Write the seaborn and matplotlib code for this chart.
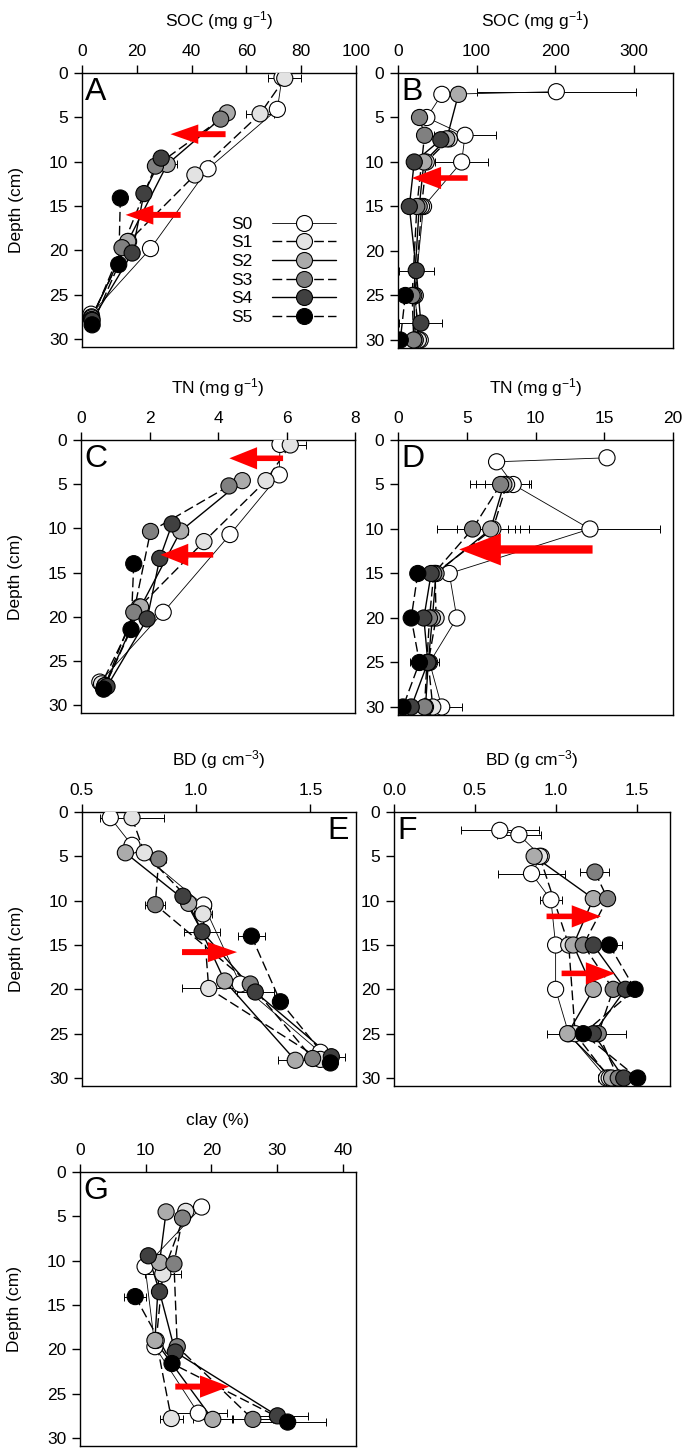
import numpy as np
import pandas as pd
import matplotlib
matplotlib.use("Agg")
import matplotlib.pyplot as plt
import seaborn as sns
from matplotlib.lines import Line2D

# ---------------- data ----------------
SERIES = ["S0", "S1", "S2", "S3", "S4", "S5"]

# Panel A : SOC (mg g-1), site 1
A_depth = {"S0": [0.5, 4.1, 10.8, 19.8, 27.2], "S1": [0.6, 4.6, 11.5, 19.0, 27.5],
           "S2": [4.5, 10.3, 19.0, 27.6], "S3": [5.2, 10.5, 19.7, 27.8],
           "S4": [9.6, 13.6, 20.3, 27.9], "S5": [14.1, 21.6, 28.4]}
A_soc = {"S0": [73.0, 71.3, 46.0, 25.0, 3.3], "S1": [74.0, 65.0, 41.2, 17.0, 3.5],
         "S2": [53.0, 31.1, 16.7, 3.5], "S3": [50.6, 26.8, 14.6, 3.5],
         "S4": [28.9, 22.6, 18.3, 3.7], "S5": [14.0, 13.4, 3.7]}
A_err = {"S0": [0, 0, 0, 0, 0], "S1": [6.0, 5.1, 0, 0, 0], "S2": [0, 3.6, 0, 0],
         "S3": [1.0, 0, 0, 0], "S4": [0, 0, 0, 0], "S5": [0, 0, 0]}

# Panel B : SOC (mg g-1), site 2
B_depth = {"S0": [2.1, 2.4, 5.0, 7.0, 10.0, 15.0, 25.0, 30.0], "S1": [7.4, 10.0, 15.0, 25.0, 30.0],
           "S2": [2.4, 7.4, 10.0, 15.0, 25.0, 30.0], "S3": [5.0, 7.0, 15.0, 25.0, 30.0],
           "S4": [7.5, 10.0, 15.0, 22.2, 28.1], "S5": [25.0, 30.0]}
B_soc = {"S0": [201.5, 55.8, 36.7, 85.3, 81.0, 32.5, 21.0, 28.3], "S1": [65.4, 36.0, 30.0, 22.0, 26.0],
         "S2": [76.9, 62.0, 33.0, 27.0, 20.0, 22.0], "S3": [27.4, 33.8, 24.0, 18.0, 20.0],
         "S4": [54.5, 20.7, 14.4, 23.2, 29.1], "S5": [9.3, 2.9]}
B_err = {"S0": [101, 0, 0, 40, 34, 0, 0, 0], "S1": [0, 0, 0, 0, 0], "S2": [0, 0, 0, 0, 0, 0],
         "S3": [0, 0, 0, 0, 0], "S4": [0, 0, 0, 22, 27.5], "S5": [0, 0]}

# Panel C : TN (mg g-1), site 1
C_depth = {"S0": [0.5, 3.95, 10.7, 19.5, 27.4], "S1": [0.56, 4.6, 11.5, 18.9, 27.6],
           "S2": [4.6, 10.3, 18.9, 27.8], "S3": [5.2, 10.35, 19.5, 27.8],
           "S4": [9.5, 13.4, 20.25, 27.9], "S5": [14.0, 21.45, 28.2]}
C_tn = {"S0": [5.81, 5.79, 4.35, 2.40, 0.55], "S1": [6.11, 5.40, 3.59, 1.70, 0.60],
        "S2": [4.71, 2.91, 1.74, 0.70], "S3": [4.32, 2.03, 1.54, 0.70],
        "S4": [2.66, 2.30, 1.93, 0.76], "S5": [1.54, 1.46, 0.66]}
C_err = {"S0": [0.22, 0, 0, 0, 0], "S1": [0.45, 0, 0, 0, 0], "S2": [0, 0.2, 0, 0],
         "S3": [0.15, 0, 0, 0], "S4": [0, 0, 0, 0], "S5": [0, 0, 0]}

# Panel D : TN (mg g-1), site 2
D_depth = {"S0": [2.0, 2.45, 5.0, 10.0, 15.0, 20.0, 25.0, 30.0], "S1": [5.0, 10.0, 15.0, 20.0, 25.0, 30.0],
           "S2": [5.0, 10.0, 15.0, 20.0, 25.0, 30.0], "S3": [5.0, 10.0, 15.0, 20.0, 25.0, 30.0],
           "S4": [15.0, 20.0, 25.0, 30.0], "S5": [15.0, 20.0, 25.0, 30.0]}
D_tn = {"S0": [15.2, 7.17, 8.38, 13.96, 3.73, 4.28, 2.3, 3.18], "S1": [7.9, 6.9, 2.7, 2.77, 2.2, 2.53],
        "S2": [7.7, 6.74, 2.77, 2.5, 2.2, 2.0], "S3": [7.46, 5.42, 2.6, 2.29, 2.1, 1.93],
        "S4": [2.41, 1.88, 2.17, 0.96], "S5": [1.44, 0.96, 1.56, 0.36]}
D_err = {"S0": [0, 0, 0, 5.06, 0, 0, 0, 1.44], "S1": [1.6, 2.6, 0, 0, 0, 0],
         "S2": [2.0, 1.8, 0, 0, 0, 0], "S3": [2.2, 2.6, 0, 0, 0, 0],
         "S4": [0, 0, 0.8, 0], "S5": [0, 0, 0.7, 0]}

# Panel E : BD (g cm-3), site 1
E_depth = {"S0": [0.64, 3.76, 10.5, 19.4, 27.1], "S1": [0.64, 4.6, 11.5, 19.9, 27.9],
           "S2": [4.6, 10.3, 19.06, 28.0], "S3": [5.3, 10.45, 19.4, 27.8],
           "S4": [9.5, 13.5, 20.3, 27.6], "S5": [14.0, 21.4, 28.3]}
E_bd = {"S0": [0.624, 0.719, 1.033, 1.193, 1.544], "S1": [0.719, 0.773, 1.03, 1.055, 1.544],
        "S2": [0.69, 0.967, 1.125, 1.434], "S3": [0.836, 0.821, 1.237, 1.51],
        "S4": [0.942, 1.026, 1.259, 1.592], "S5": [1.242, 1.369, 1.588]}
E_err = {"S0": [0, 0, 0.03, 0, 0], "S1": [0.14, 0, 0.04, 0.117, 0], "S2": [0, 0, 0, 0.077],
         "S3": [0.03, 0.044, 0, 0], "S4": [0, 0.08, 0.08, 0.06], "S5": [0.06, 0, 0]}

# Panel F : BD (g cm-3), site 2
F_depth = {"S0": [2.07, 2.56, 5.0, 6.95, 9.9, 15.0, 20.0, 25.0, 30.0], "S1": [5.0, 15.0, 25.0, 30.0],
           "S2": [5.0, 9.77, 15.0, 20.0, 25.0, 30.0], "S3": [6.77, 9.77, 15.0, 20.0, 25.0, 30.0],
           "S4": [15.0, 20.0, 25.0, 30.0], "S5": [15.0, 20.0, 25.0, 30.0]}
F_bd = {"S0": [0.654, 0.772, 0.91, 0.85, 0.97, 0.999, 0.999, 1.08, 1.314], "S1": [0.9, 1.08, 1.12, 1.33],
        "S2": [0.866, 1.232, 1.108, 1.232, 1.073, 1.345], "S3": [1.242, 1.32, 1.17, 1.355, 1.263, 1.386],
        "S4": [1.232, 1.43, 1.232, 1.42], "S5": [1.331, 1.49, 1.17, 1.506]}
F_err = {"S0": [0.24, 0.136, 0.04, 0.21, 0.07, 0.03, 0, 0, 0.05], "S1": [0.04, 0, 0, 0],
         "S2": [0.04, 0, 0.04, 0, 0.13, 0.04], "S3": [0.09, 0.03, 0.04, 0, 0.17, 0],
         "S4": [0, 0, 0, 0], "S5": [0.077, 0, 0, 0]}

# Panel G : clay (%), site 1
G_depth = {"S0": [3.95, 10.66, 19.7, 27.2], "S1": [4.44, 11.5, 19.0, 27.8],
           "S2": [4.5, 10.2, 19.0, 27.9], "S3": [5.2, 10.36, 19.7, 27.9],
           "S4": [9.45, 13.5, 20.3, 27.5], "S5": [14.05, 21.6, 28.2]}
G_clay = {"S0": [18.5, 9.9, 11.4, 18.0], "S1": [16.1, 12.6, 11.6, 13.9],
          "S2": [13.1, 12.1, 11.4, 20.2], "S3": [15.6, 14.3, 14.8, 26.3],
          "S4": [10.4, 12.1, 14.5, 30.05], "S5": [8.4, 14.0, 31.6]}
G_err = {"S0": [0, 0, 0, 4.3], "S1": [0, 2.7, 0, 1.7], "S2": [0, 0, 0, 3.0],
         "S3": [0.7, 0, 0, 3.0], "S4": [0, 0, 0, 4.7], "S5": [1.7, 0, 5.8]}

# ---------------- styling ----------------
sns.set_style("white")
plt.rcParams["font.family"] = ["Liberation Sans", "DejaVu Sans"]
plt.rcParams["mathtext.fontset"] = "custom"
plt.rcParams["mathtext.rm"] = "Liberation Sans"
plt.rcParams["mathtext.it"] = "Liberation Sans"
plt.rcParams["text.color"] = "black"
plt.rcParams["axes.labelcolor"] = "black"

FILL = {"S0": "#ffffff", "S1": "#e3e3e3", "S2": "#ababab", "S3": "#808080", "S4": "#404040", "S5": "#000000"}
DASH = {"S0": "", "S1": (7, 3), "S2": "", "S3": (7, 3), "S4": "", "S5": (7, 3)}
LWS = {"S0": 0.6, "S1": 1.0, "S2": 1.0, "S3": 1.0, "S4": 1.0, "S5": 1.0}
BLACK = {s: "black" for s in SERIES}
FS = 12.5

W, H = 685, 1448
fig = plt.figure(figsize=(W / 100, H / 100), dpi=100)


def axes_px(left, top, right, bottom):
    return fig.add_axes([left / W, 1 - bottom / H, (right - left) / W, (bottom - top) / H])


def long_frame(depth, value, err):
    rows = []
    for s in SERIES:
        for d, v, e in zip(depth[s], value[s], err[s]):
            rows.append({"series": s, "depth": d, "value": v, "err": e})
    return pd.DataFrame(rows)


def draw(ax, depth, value, err, xlim, xticks, xticklabels, xlabel, letter, letter_right=False,
         ylabel=True):
    df = long_frame(depth, value, err)
    sns.lineplot(data=df, x="value", y="depth", hue="series", style="series", size="series",
                 palette=BLACK, dashes=DASH, sizes=LWS, orient="y", sort=True,
                 estimator=None, legend=False, ax=ax, zorder=1)
    eb = df[df["err"] > 0]
    ax.errorbar(eb["value"], eb["depth"], xerr=eb["err"], fmt="none", ecolor="black",
                elinewidth=0.7, capsize=3, capthick=0.7, zorder=2)
    sns.scatterplot(data=df, x="value", y="depth", hue="series", palette=FILL, s=135,
                    edgecolor="black", linewidth=0.8, legend=False, ax=ax, zorder=3)
    ax.set_xlim(*xlim)
    ax.set_ylim(30.9, 0)
    ax.set_xticks(xticks)
    ax.set_xticklabels(xticklabels)
    ax.set_yticks([0, 5, 10, 15, 20, 25, 30])
    ax.xaxis.tick_top()
    ax.xaxis.set_label_position("top")
    ax.tick_params(axis="both", direction="out", length=6, width=1, labelsize=FS, pad=4,
                   color="black", labelcolor="black")
    ax.tick_params(axis="x", bottom=False, top=True)
    ax.tick_params(axis="y", left=True, right=False)
    ax.set_xlabel(xlabel, fontsize=FS, labelpad=13)
    ax.set_ylabel("Depth (cm)" if ylabel else "", fontsize=FS, labelpad=18)
    for sp in ax.spines.values():
        sp.set_visible(True)
        sp.set_color("black")
        sp.set_linewidth(1.0)
    if letter_right:
        ax.text(0.975, 0.985, letter, transform=ax.transAxes, ha="right", va="top", fontsize=23)
    else:
        ax.text(0.012, 0.985, letter, transform=ax.transAxes, ha="left", va="top", fontsize=23)


def arrow(ax, tail, tip, hl, hw, tw):
    ax.annotate("", xy=tip, xytext=tail, xycoords="data", textcoords="data",
                arrowprops=dict(arrowstyle=f"simple,head_length={hl},head_width={hw},tail_width={tw}",
                                color="#ff0000", shrinkA=0, shrinkB=0, mutation_scale=10, lw=0),
                zorder=5)


soc_lbl = r"SOC (mg g$^{-1}$)"
tn_lbl = r"TN (mg g$^{-1}$)"
bd_lbl = r"BD (g cm$^{-3}$)"

axA = axes_px(82, 73, 356, 347)
draw(axA, A_depth, A_soc, A_err, (0, 100), [0, 20, 40, 60, 80, 100],
     ["0", "20", "40", "60", "80", "100"], soc_lbl, "A")
arrow(axA, (52.4, 6.9), (32.3, 6.9), 2.0, 1.4, 0.43)
arrow(axA, (36.0, 16.0), (15.9, 16.0), 2.0, 1.4, 0.43)
handles = [Line2D([], [], color="black", lw=LWS[s], linestyle=(0, DASH[s]) if DASH[s] else "-",
                  marker="o", markersize=11.5, markerfacecolor=FILL[s], markeredgecolor="black",
                  markeredgewidth=0.8) for s in SERIES]
axA.legend(handles, SERIES, loc="center", bbox_to_anchor=(0.735, 0.278), frameon=False,
           markerfirst=False, handlelength=3.7, handletextpad=1.1, labelspacing=0.2,
           fontsize=FS, borderpad=0)

axB = axes_px(398, 73, 673, 348)
draw(axB, B_depth, B_soc, B_err, (0, 350), [0, 100, 200, 300], ["0", "100", "200", "300"],
     soc_lbl, "B", ylabel=False)
arrow(axB, (88.7, 11.8), (17.7, 11.8), 2.1, 1.6, 0.4)

axC = axes_px(81, 440, 355, 713)
draw(axC, C_depth, C_tn, C_err, (0, 8), [0, 2, 4, 6, 8], ["0", "2", "4", "6", "8"], tn_lbl, "C")
arrow(axC, (5.9, 2.07), (4.33, 2.07), 2.0, 1.6, 0.4)
arrow(axC, (3.86, 13.0), (2.32, 13.0), 2.0, 1.6, 0.4)

axD = axes_px(398, 440, 673, 715)
draw(axD, D_depth, D_tn, D_err, (0, 19.9), [0, 5, 10, 15, 20], ["0", "5", "10", "15", "20"],
     tn_lbl, "D", ylabel=False)
arrow(axD, (14.15, 12.3), (4.45, 12.3), 3.0, 2.3, 0.6)

axE = axes_px(82, 812, 356, 1086)
draw(axE, E_depth, E_bd, E_err, (0.5, 1.7), [0.5, 1.0, 1.5], ["0.5", "1.0", "1.5"], bd_lbl, "E",
     letter_right=True)
arrow(axE, (0.938, 15.8), (1.179, 15.8), 2.1, 1.45, 0.43)

axF = axes_px(394, 812, 670, 1086)
draw(axF, F_depth, F_bd, F_err, (0, 1.706), [0.0, 0.5, 1.0, 1.5], ["0.0", "0.5", "1.0", "1.5"],
     bd_lbl, "F", ylabel=False)
arrow(axF, (0.943, 11.77), (1.279, 11.77), 2.1, 1.6, 0.4)
arrow(axF, (1.036, 18.2), (1.366, 18.2), 2.1, 1.6, 0.4)

axG = axes_px(80, 1172, 356, 1446)
draw(axG, G_depth, G_clay, G_err, (0, 42), [0, 10, 20, 30, 40], ["0", "10", "20", "30", "40"],
     "clay (%)", "G")
arrow(axG, (14.5, 24.2), (22.7, 24.2), 2.1, 1.6, 0.43)

fig.savefig("out.png", dpi=100, facecolor="white")
